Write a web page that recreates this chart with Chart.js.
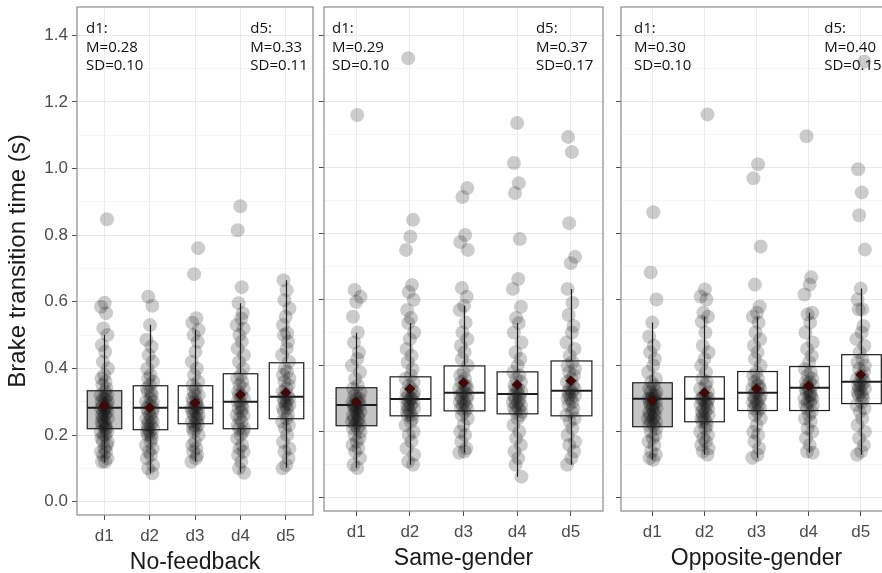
<!DOCTYPE html>
<html>
<head>
<meta charset="utf-8">
<script src="https://cdn.jsdelivr.net/npm/chart.js@4.4.1/dist/chart.umd.min.js"></script>
<style>
  html, body { margin: 0; padding: 0; background: #fff; overflow: hidden; }
  #wrap { position: relative; width: 882px; height: 573px; overflow: hidden; }
  canvas { position: absolute; top: 0; }
</style>
</head>
<body>
<div id="wrap">
  <canvas id="panel-0" width="320" height="573" style="left:0"></canvas>
  <canvas id="panel-1" width="296" height="573" style="left:314px"></canvas>
  <canvas id="panel-2" width="290" height="573" style="left:611px"></canvas>
</div>
<script>
const DAYS = ['d1', 'd2', 'd3', 'd4', 'd5'];
const GROUPS = ['No-feedback', 'Same-gender', 'Opposite-gender'];
const Y_TICKS = [0.0, 0.1, 0.2, 0.3, 0.4, 0.5, 0.6, 0.7, 0.8, 0.9, 1.0, 1.1, 1.2, 1.3, 1.4];

// box summaries, one row per panel, one value per day
const Q1 = [
  [0.219, 0.216, 0.234, 0.219, 0.249],
  [0.218, 0.248, 0.263, 0.254, 0.248],
  [0.215, 0.230, 0.264, 0.264, 0.285],
];
const MEDIAN = [
  [0.282, 0.282, 0.282, 0.300, 0.315],
  [0.281, 0.299, 0.318, 0.314, 0.324],
  [0.300, 0.300, 0.318, 0.333, 0.351],
];
const Q3 = [
  [0.333, 0.348, 0.348, 0.384, 0.417],
  [0.333, 0.366, 0.399, 0.381, 0.414],
  [0.348, 0.366, 0.382, 0.397, 0.433],
];
const WHISKER_LOW = [
  [0.117, 0.085, 0.120, 0.087, 0.102],
  [0.091, 0.100, 0.136, 0.064, 0.100],
  [0.115, 0.130, 0.121, 0.136, 0.130],
];
const WHISKER_HIGH = [
  [0.500, 0.531, 0.516, 0.596, 0.665],
  [0.499, 0.529, 0.581, 0.529, 0.632],
  [0.530, 0.548, 0.548, 0.560, 0.633],
];
const MEANS = [
  [0.288, 0.282, 0.297, 0.321, 0.327],
  [0.290, 0.330, 0.348, 0.342, 0.354],
  [0.294, 0.318, 0.330, 0.339, 0.372],
];

const NO_FEEDBACK = [
  [0.12, 0.12, 0.13, 0.14, 0.15, 0.15, 0.16, 0.17, 0.18, 0.18, 0.19, 0.2, 0.2, 0.21, 0.21, 0.22, 0.22, 0.23, 0.23, 0.24, 0.24, 0.25, 0.25, 0.26, 0.26, 0.27, 0.27, 0.28, 0.28, 0.28, 0.29, 0.29, 0.3, 0.3, 0.31, 0.31, 0.32, 0.32, 0.33, 0.34, 0.35, 0.36, 0.37, 0.38, 0.4, 0.42, 0.45, 0.47, 0.5, 0.52, 0.566, 0.585, 0.597, 0.848],
  [0.085, 0.1, 0.11, 0.13, 0.14, 0.15, 0.16, 0.17, 0.18, 0.19, 0.2, 0.2, 0.21, 0.21, 0.22, 0.22, 0.23, 0.23, 0.24, 0.24, 0.25, 0.25, 0.26, 0.27, 0.27, 0.28, 0.28, 0.29, 0.29, 0.3, 0.3, 0.31, 0.32, 0.33, 0.33, 0.34, 0.35, 0.36, 0.37, 0.38, 0.4, 0.42, 0.44, 0.466, 0.486, 0.53, 0.588, 0.615],
  [0.12, 0.13, 0.14, 0.15, 0.16, 0.17, 0.18, 0.2, 0.21, 0.22, 0.22, 0.23, 0.23, 0.24, 0.24, 0.25, 0.25, 0.26, 0.26, 0.27, 0.27, 0.28, 0.28, 0.28, 0.29, 0.29, 0.3, 0.3, 0.31, 0.32, 0.32, 0.33, 0.34, 0.35, 0.36, 0.38, 0.4, 0.42, 0.45, 0.48, 0.5, 0.516, 0.537, 0.551, 0.683, 0.761],
  [0.087, 0.1, 0.12, 0.14, 0.15, 0.16, 0.17, 0.19, 0.2, 0.21, 0.22, 0.22, 0.23, 0.24, 0.25, 0.26, 0.26, 0.27, 0.28, 0.28, 0.29, 0.3, 0.3, 0.31, 0.32, 0.32, 0.33, 0.34, 0.35, 0.36, 0.37, 0.38, 0.4, 0.42, 0.44, 0.46, 0.48, 0.5, 0.52, 0.53, 0.55, 0.566, 0.596, 0.644, 0.815, 0.887],
  [0.1, 0.11, 0.13, 0.15, 0.16, 0.18, 0.2, 0.22, 0.23, 0.24, 0.25, 0.26, 0.27, 0.28, 0.28, 0.29, 0.29, 0.3, 0.3, 0.31, 0.31, 0.32, 0.32, 0.33, 0.34, 0.35, 0.36, 0.37, 0.38, 0.39, 0.4, 0.42, 0.44, 0.46, 0.48, 0.5, 0.506, 0.53, 0.555, 0.58, 0.605, 0.635, 0.665],
];
const SAME_GENDER = [
  [0.09, 0.1, 0.12, 0.14, 0.15, 0.16, 0.17, 0.18, 0.19, 0.2, 0.21, 0.21, 0.22, 0.22, 0.23, 0.23, 0.24, 0.24, 0.25, 0.25, 0.26, 0.26, 0.27, 0.27, 0.28, 0.28, 0.28, 0.29, 0.29, 0.3, 0.3, 0.31, 0.32, 0.33, 0.34, 0.36, 0.38, 0.4, 0.42, 0.44, 0.47, 0.5, 0.548, 0.593, 0.608, 0.629, 1.158],
  [0.1, 0.11, 0.13, 0.15, 0.17, 0.19, 0.2, 0.22, 0.23, 0.24, 0.25, 0.25, 0.26, 0.26, 0.27, 0.27, 0.28, 0.28, 0.29, 0.29, 0.3, 0.3, 0.3, 0.31, 0.31, 0.32, 0.32, 0.33, 0.34, 0.35, 0.36, 0.37, 0.39, 0.41, 0.43, 0.45, 0.48, 0.5, 0.529, 0.544, 0.568, 0.599, 0.623, 0.644, 0.75, 0.79, 0.841, 1.33],
  [0.136, 0.14, 0.15, 0.17, 0.19, 0.2, 0.22, 0.24, 0.25, 0.26, 0.27, 0.27, 0.28, 0.28, 0.29, 0.29, 0.3, 0.3, 0.31, 0.31, 0.32, 0.32, 0.33, 0.33, 0.34, 0.34, 0.35, 0.36, 0.37, 0.38, 0.4, 0.42, 0.44, 0.46, 0.48, 0.5, 0.53, 0.568, 0.581, 0.608, 0.635, 0.75, 0.774, 0.795, 0.91, 0.937],
  [0.064, 0.1, 0.12, 0.14, 0.16, 0.18, 0.2, 0.22, 0.24, 0.25, 0.26, 0.26, 0.27, 0.27, 0.28, 0.28, 0.29, 0.29, 0.3, 0.3, 0.31, 0.31, 0.32, 0.32, 0.33, 0.33, 0.34, 0.35, 0.36, 0.37, 0.38, 0.4, 0.42, 0.44, 0.47, 0.5, 0.529, 0.544, 0.578, 0.632, 0.662, 0.783, 0.922, 0.952, 1.013, 1.134],
  [0.1, 0.12, 0.14, 0.16, 0.17, 0.19, 0.21, 0.23, 0.24, 0.25, 0.26, 0.27, 0.28, 0.29, 0.3, 0.3, 0.31, 0.31, 0.32, 0.32, 0.33, 0.33, 0.34, 0.35, 0.36, 0.37, 0.38, 0.39, 0.4, 0.41, 0.43, 0.45, 0.47, 0.5, 0.52, 0.553, 0.59, 0.632, 0.71, 0.729, 0.831, 1.046, 1.092],
];
const OPPOSITE_GENDER = [
  [0.115, 0.12, 0.13, 0.14, 0.16, 0.17, 0.18, 0.19, 0.2, 0.21, 0.22, 0.22, 0.23, 0.23, 0.24, 0.24, 0.25, 0.25, 0.26, 0.26, 0.27, 0.27, 0.28, 0.28, 0.29, 0.29, 0.3, 0.3, 0.3, 0.31, 0.31, 0.32, 0.32, 0.33, 0.34, 0.35, 0.36, 0.38, 0.4, 0.42, 0.44, 0.46, 0.488, 0.53, 0.6, 0.682, 0.864],
  [0.13, 0.14, 0.15, 0.16, 0.17, 0.18, 0.19, 0.2, 0.21, 0.22, 0.23, 0.23, 0.24, 0.24, 0.25, 0.25, 0.26, 0.26, 0.27, 0.27, 0.28, 0.28, 0.29, 0.29, 0.3, 0.3, 0.3, 0.31, 0.31, 0.32, 0.33, 0.34, 0.35, 0.36, 0.38, 0.4, 0.42, 0.44, 0.46, 0.5, 0.533, 0.548, 0.56, 0.6, 0.609, 0.63, 1.16],
  [0.121, 0.13, 0.15, 0.17, 0.19, 0.2, 0.22, 0.24, 0.25, 0.26, 0.27, 0.27, 0.28, 0.28, 0.29, 0.29, 0.3, 0.3, 0.31, 0.31, 0.32, 0.32, 0.33, 0.33, 0.34, 0.34, 0.35, 0.36, 0.37, 0.38, 0.4, 0.42, 0.44, 0.46, 0.479, 0.5, 0.53, 0.548, 0.56, 0.579, 0.645, 0.76, 0.967, 1.009],
  [0.136, 0.14, 0.16, 0.18, 0.2, 0.21, 0.23, 0.24, 0.25, 0.26, 0.27, 0.28, 0.28, 0.29, 0.29, 0.3, 0.3, 0.31, 0.31, 0.32, 0.32, 0.33, 0.33, 0.34, 0.34, 0.35, 0.35, 0.36, 0.37, 0.38, 0.39, 0.41, 0.43, 0.45, 0.47, 0.5, 0.53, 0.555, 0.56, 0.615, 0.645, 0.667, 1.094],
  [0.13, 0.14, 0.16, 0.18, 0.2, 0.22, 0.24, 0.26, 0.27, 0.28, 0.29, 0.3, 0.31, 0.31, 0.32, 0.32, 0.33, 0.33, 0.34, 0.34, 0.35, 0.35, 0.36, 0.36, 0.37, 0.38, 0.39, 0.4, 0.41, 0.42, 0.44, 0.46, 0.48, 0.5, 0.52, 0.57, 0.57, 0.6, 0.633, 0.751, 0.855, 0.924, 0.994, 1.32],
];
const OBSERVATIONS = [NO_FEEDBACK, SAME_GENDER, OPPOSITE_GENDER];

// horizontal jitter offsets (x units), cycled over the points
const JITTER = [0.02, -0.05, 0.07, -0.02, 0.04, -0.07, 0.01, 0.06, -0.03, 0.08, -0.06, 0.03, -0.02, 0.07, -0.08, 0.02, 0.05, -0.04, 0.03, -0.06, 0.0, 0.08, -0.03];

// corner notes
const FIRST_DAY_M = ['0.28', '0.29', '0.30'];
const FIRST_DAY_SD = ['0.10', '0.10', '0.10'];
const LAST_DAY_M = ['0.33', '0.37', '0.40'];
const LAST_DAY_SD = ['0.11', '0.17', '0.15'];

const PANELS = [
  { id: 'panel-0', yWidth: 77, padRight: 7, xHeight: 58, showY: true, titlePad: -1.5, noteX: [0.6, 4.22] },
  { id: 'panel-1', yWidth: 10, padRight: 7, xHeight: 62, showY: false, titlePad: 2.5, noteX: [0.55, 4.35] },
  { id: 'panel-2', yWidth: 10, padRight: 9, xHeight: 62, showY: false, titlePad: 2.5, noteX: [0.65, 4.3] },
];

const BOX_WIDTH = 0.76;
const AXIS_FONT = '"Liberation Sans", Arial, sans-serif';
const NOTE_FONT = '15px "Open Sans", sans-serif';

Chart.defaults.font.family = AXIS_FONT;

const isMajor = (v) => Math.round(v * 10) % 2 === 0;

const boxPlot = {
  id: 'boxPlot',
  beforeDatasetsDraw(chart, args, opts) {
    const { ctx } = chart;
    const x = chart.scales.x;
    const y = chart.scales.y;
    const p = opts.panel;
    // first day box is shaded
    const half = x.getPixelForValue(1 + BOX_WIDTH / 2) - x.getPixelForValue(1);
    const cx = x.getPixelForValue(1);
    const top = y.getPixelForValue(Q3[p][0]);
    const bot = y.getPixelForValue(Q1[p][0]);
    ctx.save();
    ctx.fillStyle = '#c4c4c4';
    ctx.fillRect(cx - half, top, half * 2, bot - top);
    ctx.restore();
  },
  afterDatasetDraw(chart, args, opts) {
    if (args.index !== 0) return;
    const { ctx } = chart;
    const x = chart.scales.x;
    const y = chart.scales.y;
    const p = opts.panel;
    const half = x.getPixelForValue(1 + BOX_WIDTH / 2) - x.getPixelForValue(1);
    ctx.save();
    ctx.strokeStyle = '#1e1e1e';
    DAYS.forEach((d, i) => {
      const cx = Math.round(x.getPixelForValue(i + 1)) + 0.5;
      const top = y.getPixelForValue(Q3[p][i]);
      const bot = y.getPixelForValue(Q1[p][i]);
      const med = y.getPixelForValue(MEDIAN[p][i]);
      ctx.lineWidth = 1.2;
      ctx.beginPath();
      ctx.moveTo(cx, y.getPixelForValue(WHISKER_HIGH[p][i]));
      ctx.lineTo(cx, top);
      ctx.moveTo(cx, bot);
      ctx.lineTo(cx, y.getPixelForValue(WHISKER_LOW[p][i]));
      ctx.stroke();
      ctx.strokeRect(cx - half, top, half * 2, bot - top);
      ctx.lineWidth = 2;
      ctx.beginPath();
      ctx.moveTo(cx - half, med);
      ctx.lineTo(cx + half, med);
      ctx.stroke();
    });
    ctx.restore();
  },
  afterDraw(chart, args, opts) {
    const { ctx, chartArea } = chart;
    const x = chart.scales.x;
    const p = opts.panel;
    ctx.save();
    ctx.strokeStyle = '#8a8a8a';
    ctx.lineWidth = 1.2;
    ctx.strokeRect(chartArea.left, chartArea.top, chartArea.right - chartArea.left, chartArea.bottom - chartArea.top);

    ctx.font = NOTE_FONT;
    ctx.fillStyle = '#111';
    ctx.textAlign = 'left';
    ctx.textBaseline = 'alphabetic';
    const notes = [
      ['d1:', 'M=' + FIRST_DAY_M[p], 'SD=' + FIRST_DAY_SD[p]],
      ['d5:', 'M=' + LAST_DAY_M[p], 'SD=' + LAST_DAY_SD[p]],
    ];
    notes.forEach((lines, k) => {
      const nx = x.getPixelForValue(opts.noteX[k]);
      lines.forEach((line, j) => {
        ctx.fillText(line, nx, chartArea.top + 26 + j * 18.5);
      });
    });
    ctx.restore();
  },
};

function buildPanel(p) {
  const layout = PANELS[p];
  const points = [];
  OBSERVATIONS[p].forEach((values, i) => {
    values.forEach((v, k) => {
      points.push({ x: i + 1 + JITTER[(k + i * 7) % JITTER.length], y: v });
    });
  });
  const means = MEANS[p].map((m, i) => ({ x: i + 1, y: m }));

  return new Chart(document.getElementById(layout.id), {
    type: 'scatter',
    data: {
      datasets: [
        {
          data: points,
          order: 2,
          pointRadius: 7,
          pointBorderWidth: 0,
          pointBackgroundColor: 'rgba(0, 0, 0, 0.2)',
        },
        {
          data: means,
          order: 1,
          pointStyle: 'rectRot',
          pointRadius: 5.5,
          pointBorderWidth: 0,
          pointBackgroundColor: '#3d0909',
        },
      ],
    },
    options: {
      responsive: false,
      animation: false,
      devicePixelRatio: 1,
      events: [],
      layout: { padding: { top: 7, right: layout.padRight, left: 0, bottom: 0 } },
      scales: {
        x: {
          type: 'linear',
          min: 0.4,
          max: 5.6,
          afterBuildTicks: (s) => { s.ticks = DAYS.map((d, i) => ({ value: i + 1 })); },
          afterFit: (s) => { s.height = layout.xHeight; s.paddingLeft = 0; s.paddingRight = 0; },
          ticks: {
            callback: (v) => DAYS[Math.round(v) - 1],
            color: '#4d4d4d',
            font: { size: 17 },
            padding: 6,
            maxRotation: 0,
            autoSkip: false,
          },
          grid: { color: '#ebebeb', lineWidth: 1, tickColor: '#4d4d4d', tickLength: 5 },
          border: { display: false },
          title: {
            display: true,
            text: GROUPS[p],
            color: '#1a1a1a',
            font: { size: 23, lineHeight: 1 },
            padding: { top: 0, bottom: layout.titlePad },
          },
        },
        y: {
          type: 'linear',
          min: -0.04,
          max: 1.485,
          afterBuildTicks: (s) => { s.ticks = Y_TICKS.map((v) => ({ value: v })); },
          afterFit: (s) => { s.width = layout.yWidth; s.paddingTop = 0; s.paddingBottom = 0; },
          ticks: {
            callback: (v) => (layout.showY && isMajor(v) ? v.toFixed(1) : ''),
            color: '#4d4d4d',
            font: { size: 17 },
            padding: 4,
            autoSkip: false,
          },
          grid: {
            color: (c) => (c.tick && isMajor(c.tick.value) ? '#e8e8e8' : '#f3f3f3'),
            lineWidth: (c) => (c.tick && isMajor(c.tick.value) ? 1 : 0.8),
            tickColor: (c) => (c.tick && isMajor(c.tick.value) ? '#4d4d4d' : 'rgba(0,0,0,0)'),
            tickLength: 5,
          },
          border: { display: false },
          title: {
            display: layout.showY,
            text: 'Brake transition time (s)',
            color: '#1a1a1a',
            font: { size: 24, lineHeight: 1 },
            padding: { top: 6, bottom: 0 },
          },
        },
      },
      plugins: {
        legend: { display: false },
        tooltip: { enabled: false },
        boxPlot: { panel: p, noteX: layout.noteX },
      },
    },
    plugins: [boxPlot],
  });
}

PANELS.forEach((layout, p) => buildPanel(p));
</script>
</body>
</html>
